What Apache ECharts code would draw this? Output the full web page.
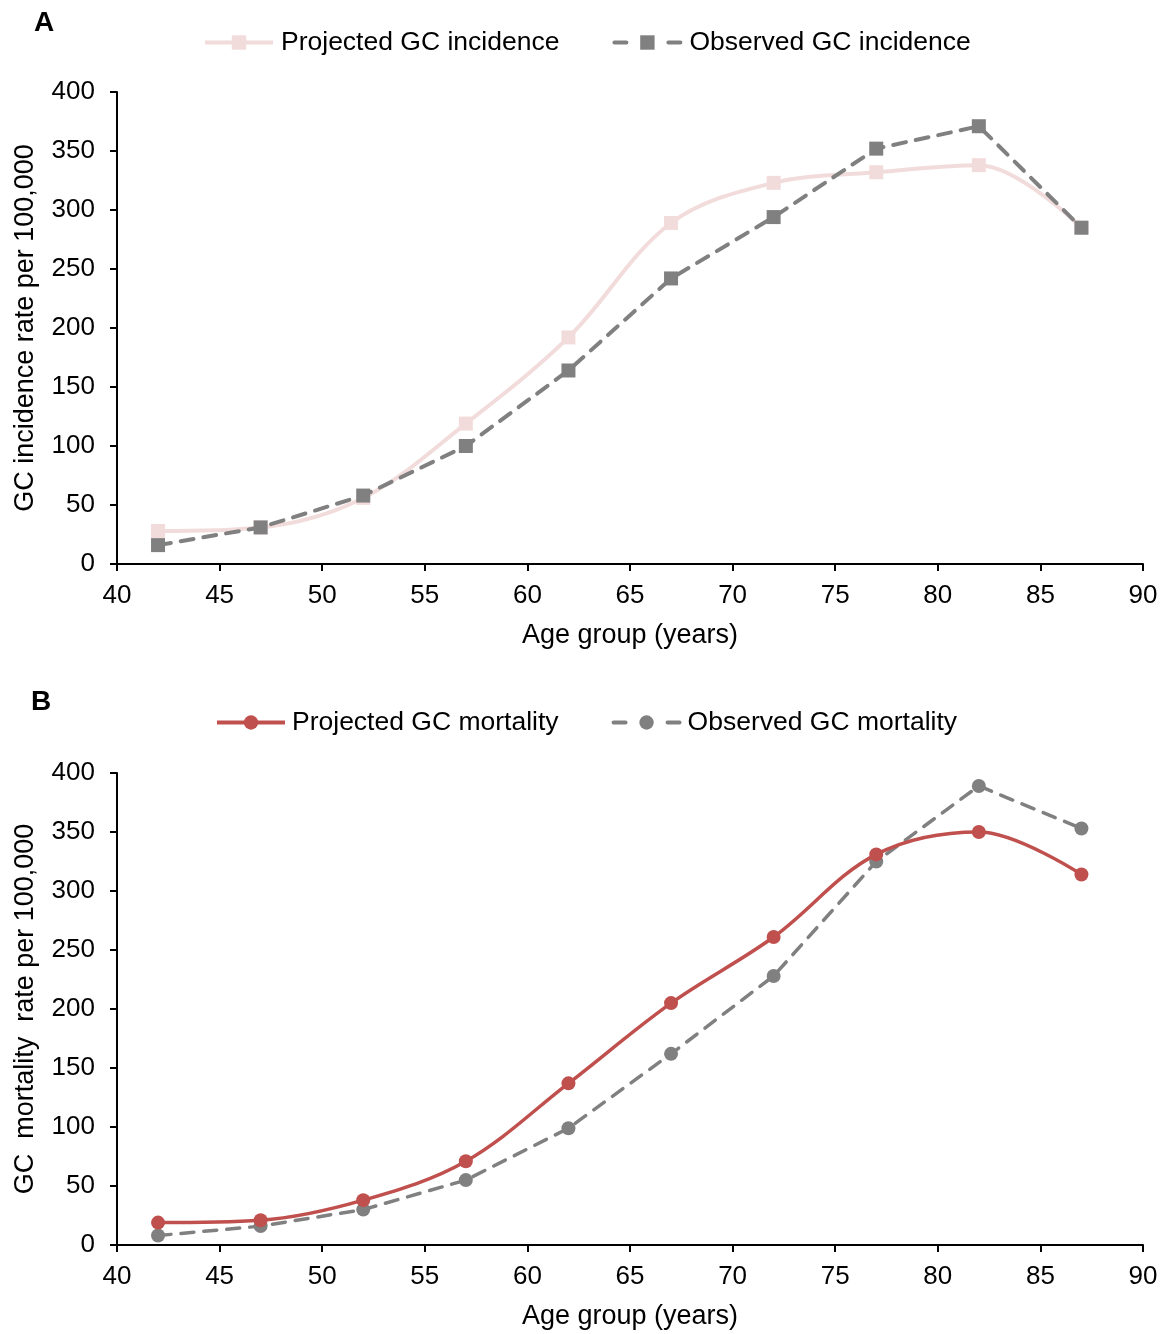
<!DOCTYPE html>
<html>
<head>
<meta charset="utf-8">
<script src="https://cdn.jsdelivr.net/npm/echarts@6/dist/echarts.min.js"></script>
<style>
html,body{margin:0;padding:0;background:#fff;}
#c{width:1168px;height:1334px;}
</style>
</head>
<body>
<div id="c"></div>
<script>
const ages = [42, 47, 52, 57, 62, 67, 72, 77, 82, 87];
const projectedIncidence = [28, 31, 56, 119, 192, 289, 323, 332, 338, 285];
const observedIncidence = [16, 31, 58, 100, 164, 242, 294, 352, 371, 285];
const projectedMortality = [19, 21, 38, 71, 137, 205, 261, 331, 350, 314];
const observedMortality = [8, 16, 30, 55, 99, 162, 228, 325, 389, 353];
const xTicks = [40, 45, 50, 55, 60, 65, 70, 75, 80, 85, 90];
const yTicks = [0, 50, 100, 150, 200, 250, 300, 350, 400];

const FONT = 'Liberation Sans, Arial, sans-serif';
const FS = 26;
const FSN = 27;
const FSL = 26.5;
const PINK = '#F2DCDB', GREY = '#808080', RED = '#C0504D';

function pairs(xs, ys){ return xs.map((x,i)=>[x, ys[i]]); }

function xAxisCfg(gi){
  return {
    gridIndex: gi, type: 'value',
    min: xTicks[0], max: xTicks[xTicks.length-1], interval: 5,
    name: 'Age group (years)', nameLocation: 'middle', nameGap: 58,
    nameTextStyle: {fontFamily: FONT, fontSize: FSN, color: '#000'},
    axisLine: {show: true, onZero: false, lineStyle: {color: '#000', width: 2}},
    axisTick: {show: true, inside: false, length: 7, lineStyle: {color: '#000', width: 2}},
    axisLabel: {margin: 19, fontFamily: FONT, fontSize: FS, color: '#000'},
    splitLine: {show: false}
  };
}
function yAxisCfg(gi, name){
  return {
    gridIndex: gi, type: 'value',
    min: yTicks[0], max: yTicks[yTicks.length-1], interval: 50,
    name: name, nameLocation: 'middle', nameGap: 78, nameRotate: 90,
    nameTextStyle: {fontFamily: FONT, fontSize: FSN, color: '#000'},
    axisLine: {show: true, lineStyle: {color: '#000', width: 2}},
    axisTick: {show: true, inside: false, length: 7, lineStyle: {color: '#000', width: 2}},
    axisLabel: {margin: 22, fontFamily: FONT, fontSize: FS, color: '#000'},
    splitLine: {show: false}
  };
}
function legendItem(name, color, dashed){
  return {
    name: name,
    itemStyle: {color: color},
    lineStyle: dashed ? {color: color, width: 4, type: [12, 42], dashOffset: -1, cap: 'round'} : {color: color, width: 4}
  };
}

const chart = echarts.init(document.getElementById('c'), null, {renderer: 'canvas'});
chart.setOption({
  backgroundColor: '#fff',
  animation: false,
  title: [
    {text: 'A', left: 34, top: 9, padding: 0, textStyle: {fontFamily: FONT, fontSize: 28, fontWeight: 'bold', color: '#000'}},
    {text: 'B', left: 31, top: 688, padding: 0, textStyle: {fontFamily: FONT, fontSize: 28, fontWeight: 'bold', color: '#000'}}
  ],
  legend: [
    {
      data: [legendItem('Projected GC incidence', PINK, false), legendItem('Observed GC incidence', GREY, true)],
      left: 203, top: 29, padding: 0, itemWidth: 68, itemHeight: 18, itemGap: 52,
      textStyle: {fontFamily: FONT, fontSize: FSL, color: '#000', padding: [0,0,0,3]}
    },
    {
      data: [legendItem('Projected GC mortality', RED, false), legendItem('Observed GC mortality', GREY, true)],
      left: 215, top: 709, padding: 0, itemWidth: 68, itemHeight: 18, itemGap: 52,
      textStyle: {fontFamily: FONT, fontSize: FSL, color: '#000', padding: [0,0,0,2]}
    }
  ],
  grid: [
    {left: 117, top: 92, width: 1026, height: 472},
    {left: 117, top: 773, width: 1026, height: 472}
  ],
  xAxis: [xAxisCfg(0), xAxisCfg(1)],
  yAxis: [yAxisCfg(0, 'GC incidence rate per 100,000'), yAxisCfg(1, 'GC  mortality  rate per 100,000')],
  series: [
    {
      name: 'Projected GC incidence', type: 'line', xAxisIndex: 0, yAxisIndex: 0,
      data: pairs(ages, projectedIncidence), smooth: 0.35,
      symbol: 'rect', symbolSize: 14,
      lineStyle: {color: PINK, width: 4}, itemStyle: {color: PINK}, z: 2
    },
    {
      name: 'Observed GC incidence', type: 'line', xAxisIndex: 0, yAxisIndex: 0,
      data: pairs(ages, observedIncidence), smooth: false,
      symbol: 'rect', symbolSize: 14,
      lineStyle: {color: GREY, width: 4, type: [13, 10], cap: 'round'}, itemStyle: {color: GREY}, z: 3
    },
    {
      name: 'Projected GC mortality', type: 'line', xAxisIndex: 1, yAxisIndex: 1,
      data: pairs(ages, projectedMortality), smooth: 0.35,
      symbol: 'circle', symbolSize: 14,
      lineStyle: {color: RED, width: 3.5}, itemStyle: {color: RED}, z: 3
    },
    {
      name: 'Observed GC mortality', type: 'line', xAxisIndex: 1, yAxisIndex: 1,
      data: pairs(ages, observedMortality), smooth: false,
      symbol: 'circle', symbolSize: 14,
      lineStyle: {color: GREY, width: 3.5, type: [13, 10], cap: 'round'}, itemStyle: {color: GREY}, z: 2
    }
  ]
});
</script>
</body>
</html>
